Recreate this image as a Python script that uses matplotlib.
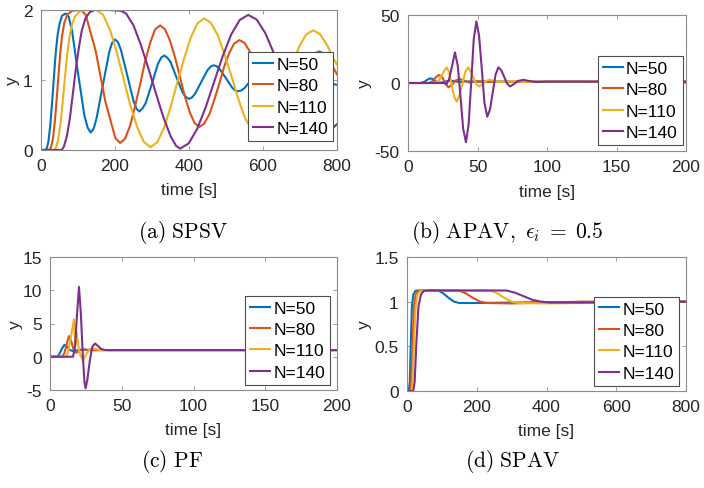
import matplotlib
matplotlib.use("Agg")
import matplotlib.pyplot as plt
from matplotlib.ticker import FuncFormatter

plt.rcParams["font.family"] = ["Liberation Sans", "DejaVu Sans"]
plt.rcParams["mathtext.fontset"] = "cm"
plt.rcParams["axes.unicode_minus"] = False

labels = ["N=50", "N=80", "N=110", "N=140"]
colors = ["#0072BD", "#D95319", "#EDB120", "#7E2F8E"]

# ---- (a) SPSV ----
spsv_t50 = [0, 12, 16, 20, 25, 30, 35, 40, 45, 50, 57, 67, 75, 84, 100, 117, 126, 134, 142, 150,
            167, 184, 192, 200, 208, 216, 233, 250, 258, 266, 275, 283, 300, 316, 325, 333, 341,
            350, 366, 383, 391, 400, 408, 416, 433, 450, 458, 466, 474, 483, 500, 516, 525, 533,
            541, 550, 566, 583, 600, 616, 633, 650, 666, 683, 700, 716, 733, 750, 766, 783, 800]
spsv_y50 = [0, 0, 0.03, 0.12, 0.35, 0.68, 1.05, 1.4, 1.65, 1.8, 1.92, 1.95, 1.9, 1.7, 1.1, 0.5,
            0.32, 0.25, 0.3, 0.45, 0.92, 1.39, 1.53, 1.58, 1.54, 1.43, 1.07, 0.7, 0.59, 0.55, 0.6,
            0.67, 0.95, 1.23, 1.32, 1.35, 1.32, 1.26, 1.04, 0.82, 0.76, 0.73, 0.75, 0.8, 0.97,
            1.14, 1.19, 1.21, 1.2, 1.155, 1.025, 0.895, 0.85, 0.84, 0.85, 0.885, 0.985, 1.09,
            1.13, 1.095, 1.01, 0.925, 0.89, 0.918, 0.985, 1.05, 1.08, 1.058, 1.005, 0.952, 0.93]

spsv_t80 = [0, 22, 27, 32, 37, 42, 47, 52, 57, 63, 72, 85, 108, 121, 148, 174, 201, 214, 227,
            241, 254, 268, 281, 295, 308, 322, 335, 348, 362, 375, 388, 402, 415, 428, 441, 455,
            468, 482, 495, 509, 522, 536, 550, 563, 577, 590, 604, 618, 631, 645, 658, 672, 685,
            698, 712, 725, 739, 752, 765, 778, 792, 800]
spsv_y80 = [0, 0, 0.04, 0.15, 0.38, 0.7, 1.05, 1.38, 1.63, 1.82, 1.94, 1.99, 2.0, 1.93, 1.41,
            0.69, 0.17, 0.1, 0.16, 0.35, 0.62, 0.94, 1.26, 1.53, 1.72, 1.78, 1.725, 1.57, 1.33,
            1.055, 0.78, 0.54, 0.385, 0.33, 0.377, 0.51, 0.71, 0.95, 1.19, 1.39, 1.52, 1.57,
            1.53, 1.42, 1.255, 1.06, 0.865, 0.7, 0.59, 0.55, 0.583, 0.676, 0.815, 0.98, 1.145,
            1.28, 1.38, 1.41, 1.38, 1.29, 1.157, 1.08]

spsv_t110 = [0, 36, 41, 46, 52, 58, 64, 70, 76, 83, 92, 105, 125, 150, 168, 187, 205, 223, 241,
             260, 278, 296, 314, 332, 350, 368, 387, 405, 423, 441, 459, 478, 496, 515, 533, 551,
             570, 588, 606, 625, 643, 662, 680, 699, 717, 736, 754, 773, 791, 800]
spsv_y110 = [0, 0, 0.04, 0.14, 0.35, 0.65, 1.0, 1.32, 1.58, 1.78, 1.91, 1.98, 2.0, 2.0, 1.93,
             1.71, 1.395, 1.02, 0.645, 0.327, 0.115, 0.04, 0.11, 0.31, 0.608, 0.96, 1.31, 1.61,
             1.81, 1.88, 1.817, 1.637, 1.368, 1.05, 0.732, 0.463, 0.283, 0.22, 0.278, 0.438,
             0.68, 0.965, 1.25, 1.49, 1.653, 1.71, 1.656, 1.5, 1.3, 1.22]

spsv_t140 = [0, 56, 62, 70, 78, 86, 94, 102, 110, 120, 132, 145, 183, 215, 230, 250, 270, 290,
             310, 330, 350, 365, 376, 399, 422, 445, 468, 491, 514, 537, 560, 583, 606, 629,
             652, 675, 698, 721, 745, 768, 784, 800]
spsv_y140 = [0, 0, 0.05, 0.2, 0.45, 0.8, 1.15, 1.45, 1.7, 1.88, 1.97, 2.0, 2.0, 1.99, 1.95,
             1.78, 1.5, 1.17, 0.82, 0.48, 0.2, 0.06, 0.02, 0.093, 0.3, 0.61, 0.975, 1.34, 1.65,
             1.857, 1.93, 1.863, 1.672, 1.387, 1.05, 0.713, 0.428, 0.237, 0.17, 0.22, 0.29, 0.37]

# ---- (b) APAV ----
apav_t50 = [0, 9, 12, 14, 16, 18, 20, 22, 25, 28, 31, 34, 37, 41, 46, 200]
apav_y50 = [0, 0, 1.0, 2.5, 3.4, 2.8, 1.2, 0.3, 0.4, 1.4, 1.8, 1.2, 0.7, 1.2, 1.0, 1.0]

apav_t80 = [0, 15, 18, 20, 22.3, 24.5, 26.5, 29, 31.5, 34, 37.4, 40.5, 44, 48, 52, 58, 200]
apav_y80 = [0, 0, 1.5, 4.2, 5.9, 4.5, 0.5, -3.2, -1.5, 1.8, 2.9, 1.6, 0.3, 1.3, 1.2, 0.9, 1.0]

apav_t110 = [0, 19, 22, 25.5, 27.8, 29.6, 31.4, 33.2, 35, 37.1, 39.2, 41.3, 43.4, 45.4, 47.4,
             49.3, 51.3, 53.5, 56, 58.5, 61, 65, 70, 78, 85, 200]
apav_y110 = [0, 0, 1.5, 8, 11.5, 8, -1, -10, -13.7, -9, 0, 8.5, 11.5, 8, 3, -1, -2.5, -1, 1.5,
             2.3, 1.8, 0.7, 1.0, 1.3, 0.8, 1.0]

apav_t140 = [0, 26, 27.5, 29.5, 31.7, 33.8, 35.8, 37.8, 39.7, 41.7, 43.6, 45.5, 47.3, 49.2,
             51.1, 53.1, 55, 57, 59, 61, 63, 65, 67.1, 69.2, 71.3, 73.4, 76, 79, 83, 87, 92,
             100, 200]
apav_y140 = [0, 0, -1.0, 2.5, 12.5, 22.5, 12.8, -10.5, -33.8, -43.6, -30.6, 0.9, 32.3, 45.3,
             35, 10.3, -14.5, -24.8, -19.5, -6.6, 6.2, 11.5, 9.4, 4.5, -0.45, -2.5, -1.0, 1.5,
             2.3, 1.5, 0.7, 1.0, 1.0]

# ---- (c) PF ----
pf_t50 = [0, 5, 6.5, 8, 10, 12, 14, 16, 18, 22, 30, 200]
pf_y50 = [0, 0, 0.4, 1.1, 1.8, 1.5, 1.0, 0.85, 0.95, 1.05, 1.0, 1.0]

pf_t80 = [0, 8, 10, 11.5, 13.2, 15, 16.8, 18.5, 20.5, 23, 27, 200]
pf_y80 = [0, 0, 0.5, 1.8, 3.1, 2.2, 0.8, 0.6, 1.0, 1.15, 1.0, 1.0]

pf_t110 = [0, 11, 12.5, 14.2, 16.7, 17.6, 18.6, 20.3, 22.8, 25, 28, 31, 35, 200]
pf_y110 = [0, 0, 0.6, 2.5, 5.6, 1.8, 3.6, 0.8, -0.6, 0.3, 1.2, 1.2, 1.0, 1.0]

pf_t140 = [0, 16, 17.5, 18.7, 20.2, 21.5, 22.8, 24, 24.8, 26, 27.8, 29.5, 31.4, 33.5, 35.5,
           37.6, 40, 200]
pf_y140 = [0, 0, 1.5, 6, 10.5, 6.5, 0.5, -3.8, -4.75, -3.5, -0.5, 1.5, 2.0, 1.6, 1.2, 1.05,
           1.0, 1.0]

# ---- (d) SPAV ----
spav_t50 = [0, 5, 8, 11, 14, 18, 24, 30, 90, 105, 120, 135, 150, 200, 300, 400, 800]
spav_y50 = [0, 0, 0.1, 0.55, 0.95, 1.08, 1.12, 1.125, 1.125, 1.09, 1.04, 1.0, 0.985, 0.985,
            0.99, 0.995, 1.0]

spav_t80 = [0, 9, 12, 16, 20, 25, 32, 40, 150, 170, 190, 210, 230, 300, 400, 500, 800]
spav_y80 = [0, 0, 0.1, 0.55, 0.95, 1.08, 1.12, 1.125, 1.125, 1.09, 1.04, 1.0, 0.985, 0.98,
            0.99, 1.0, 1.0]

spav_t110 = [0, 13, 16, 20, 25, 30, 38, 48, 240, 260, 280, 300, 320, 400, 500, 600, 800]
spav_y110 = [0, 0, 0.1, 0.55, 0.95, 1.08, 1.12, 1.125, 1.125, 1.09, 1.04, 1.0, 0.985, 0.98,
             0.985, 0.99, 1.0]

spav_t140 = [0, 18, 22, 27, 33, 40, 48, 58, 285, 310, 335, 360, 385, 410, 500, 800]
spav_y140 = [0, 0, 0.1, 0.55, 0.95, 1.08, 1.12, 1.125, 1.125, 1.1, 1.06, 1.02, 1.0, 0.99,
             0.99, 1.0]

panels = [
    dict(rect=[41, 11, 296, 140], ylab_x=12,
         series=[(spsv_t50, spsv_y50), (spsv_t80, spsv_y80),
                 (spsv_t110, spsv_y110), (spsv_t140, spsv_y140)],
         xlim=(0, 800), xticks=[0, 200, 400, 600, 800], ylim=(0, 2), yticks=[0, 1, 2],
         leg=(0.986, 0.70)),
    dict(rect=[408, 16, 278, 136], ylab_x=364,
         series=[(apav_t50, apav_y50), (apav_t80, apav_y80),
                 (apav_t110, apav_y110), (apav_t140, apav_y140)],
         xlim=(0, 200), xticks=[0, 50, 100, 150, 200], ylim=(-50, 50), yticks=[-50, 0, 50],
         leg=(0.988, 0.70)),
    dict(rect=[50, 258, 287, 133], ylab_x=15,
         series=[(pf_t50, pf_y50), (pf_t80, pf_y80),
                 (pf_t110, pf_y110), (pf_t140, pf_y140)],
         xlim=(0, 200), xticks=[0, 50, 100, 150, 200], ylim=(-5, 15),
         yticks=[-5, 0, 5, 10, 15], leg=(0.976, 0.71)),
    dict(rect=[407, 258, 279, 134], ylab_x=364,
         series=[(spav_t50, spav_y50), (spav_t80, spav_y80),
                 (spav_t110, spav_y110), (spav_t140, spav_y140)],
         xlim=(0, 800), xticks=[0, 200, 400, 600, 800], ylim=(0, 1.5),
         yticks=[0, 0.5, 1, 1.5], leg=(0.976, 0.705)),
]

W, H = 704, 489
fig = plt.figure(figsize=(W / 100, H / 100), dpi=100)
fmt = FuncFormatter(lambda v, p: f"{v:g}")
dark = "#262626"
fs = 12.5

for pnl in panels:
    x0, y0, w, h = pnl["rect"]
    ax = fig.add_axes([x0 / W, (H - y0 - h) / H, w / W, h / H])
    for (t, y), c, lab in zip(pnl["series"], colors, labels):
        ax.plot(t, y, color=c, lw=1.5, label=lab)
    ax.set_xlim(*pnl["xlim"])
    ax.set_ylim(*pnl["ylim"])
    ax.set_xticks(pnl["xticks"])
    ax.set_yticks(pnl["yticks"])
    ax.xaxis.set_major_formatter(fmt)
    ax.yaxis.set_major_formatter(fmt)
    ax.tick_params(direction="in", length=3, width=0.6, top=True, right=True,
                   labelsize=fs, colors="#8c8c8c", labelcolor=dark, pad=6)
    for s in ax.spines.values():
        s.set_color("#8c8c8c")
        s.set_linewidth(0.8)
    ax.set_xlabel("time [s]", fontsize=fs, color=dark, va="center")
    ax.xaxis.set_label_coords(0.5, -40 / h)
    ax.set_ylabel("y", fontsize=fs, color=dark, va="center")
    ax.yaxis.set_label_coords((pnl["ylab_x"] - x0) / w, 0.5)
    leg = ax.legend(loc="upper right", bbox_to_anchor=pnl["leg"], borderaxespad=0,
                    fontsize=fs, handlelength=1.15, handletextpad=0.2, labelspacing=0.36,
                    borderpad=0.28, fancybox=False, framealpha=1)
    leg.get_frame().set_edgecolor("#4d4d4d")
    leg.get_frame().set_linewidth(0.8)

caps = [(183, 233, r"$\mathrm{(a)\ SPSV}$"),
        (507, 233, r"$\mathrm{(b)\ APAV,}\ \epsilon_i\;=\;0.5$"),
        (172, 462, r"$\mathrm{(c)\ PF}$"),
        (513, 462, r"$\mathrm{(d)\ SPAV}$")]
for cx, cy, txt in caps:
    fig.text(cx / W, 1 - cy / H, txt, ha="center", va="center", fontsize=15.5, color="black")

fig.savefig("out.png", dpi=100)
